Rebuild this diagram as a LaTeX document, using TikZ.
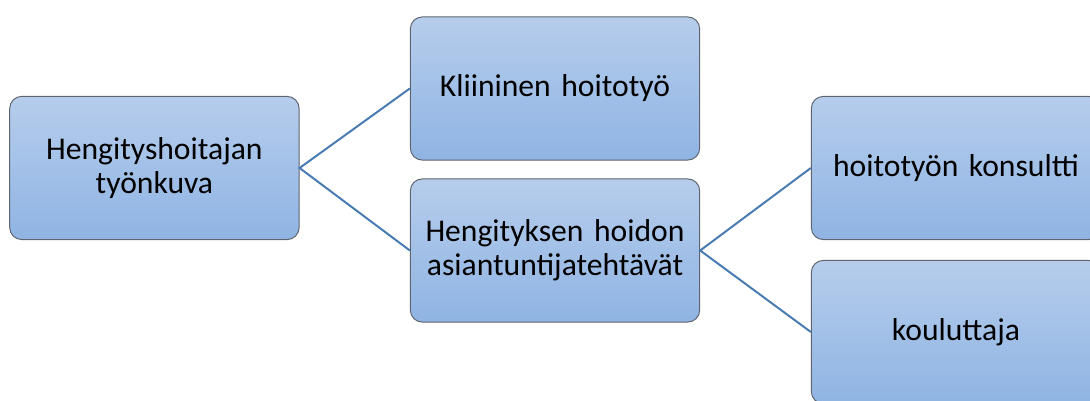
\documentclass[tikz,border=0pt]{standalone}
\usepackage{fontspec}
\setmainfont{Carlito}
\usetikzlibrary{positioning}
\definecolor{bxtop} {RGB}{182,205,236}
\definecolor{bxbot} {RGB}{143,180,227}
\definecolor{bxline}{RGB}{ 95,100,110}
\definecolor{lnblue}{RGB}{ 72,122,178}
\tikzset{
  % gradient box of the org chart
  OB/.style={rectangle,rounded corners=0.3cm,draw=bxline,line width=0.7pt,
             top color=bxtop,bottom color=bxbot,
             minimum width=7.15cm,minimum height=3.58cm,
             text width=7cm,align=center,font=\fontsize{22.5}{24.5}\selectfont},
  % plain connector
  Lnk/.style={draw=lnblue,line width=1.4pt},
}
\begin{document}
\begin{tikzpicture}
      \useasboundingbox (0,0) rectangle (27.25,10.025);
      \clip (0,0) rectangle (27.25,10.025);
      \node[OB] at (3.86,5.825) (root)
            {Hengityshoitajan\\työnkuva};
      \node[OB] at (13.875,7.8125) (klin)
            {Kliininen hoitotyö};
      \node[OB] at (13.875,3.7625) (asi)
            {Hengityksen hoidon\\asiantuntijatehtävät};
      \node[OB] at (23.9,5.825) (kons)
            {hoitotyön konsultti};
      \node[OB] at (23.9,1.725) (kou)
            {kouluttaja};
      \draw[Lnk] (klin.west) -- (root.east) -- (asi.west);
      \draw[Lnk] (kons.west) -- (asi.east) -- (kou.west);
    \end{tikzpicture}
\end{document}
